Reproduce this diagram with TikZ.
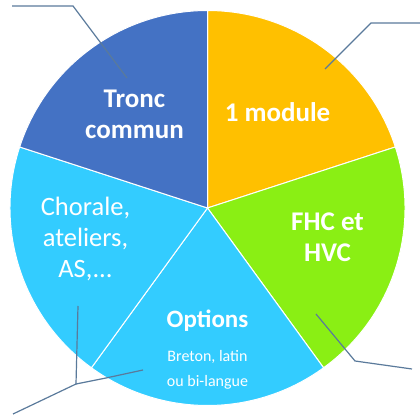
\documentclass[tikz,border=0pt]{standalone}
\usepackage{fontspec}
\setmainfont{Carlito}
\definecolor{troncblue}{RGB}{68,114,196}
\definecolor{moduleorange}{RGB}{255,192,0}
\definecolor{fhcgreen}{RGB}{138,239,20}
\definecolor{optblue}{RGB}{51,204,255}
\definecolor{leadgray}{RGB}{90,122,155}
\begin{document}
\begin{tikzpicture}[
    x=1pt, y=1pt,
    slice/.style={draw=white, line width=1pt},
    lbl/.style={text=white, align=center, inner sep=0pt},
    big/.style={font=\fontsize{27}{31}\selectfont\bfseries},
    bigthin/.style={font=\fontsize{26.5}{31}\selectfont},
    small/.style={font=\fontsize{16}{25}\selectfont},
    leader/.style={draw=leadgray, line width=1.2pt}
  ]
    \useasboundingbox (0,0) rectangle (420,417);
    \coordinate (c) at (207.5,209);
    \draw[slice, fill=moduleorange] (c) -- ++(90:197.5pt) arc[start angle=90, end angle=18, radius=197.5pt] -- cycle;
    \draw[slice, fill=fhcgreen] (c) -- ++(18:197.5pt) arc[start angle=18, end angle=-54, radius=197.5pt] -- cycle;
    \draw[slice, fill=optblue] (c) -- ++(-54:197.5pt) arc[start angle=-54, end angle=-126, radius=197.5pt] -- cycle;
    \draw[slice, fill=optblue] (c) -- ++(-126:197.5pt) arc[start angle=-126, end angle=-198, radius=197.5pt] -- cycle;
    \draw[slice, fill=troncblue] (c) -- ++(162:197.5pt) arc[start angle=162, end angle=90, radius=197.5pt] -- cycle;

    \node[lbl, big] (tronc) at (134.5,303) {Tronc\\ commun};
    \node[lbl, big] (module) at (277.5,304.5) {1 module};
    \node[lbl, big] (fhc) at (327.5,179.5) {FHC et\\ HVC};
    \node[lbl, bigthin] (chorale) at (85.5,178) {Chorale,\\ ateliers,\\ AS,...};
    \node[lbl, font=\fontsize{25}{30}\selectfont\bfseries] (options) at (207.5,96.5) {Options};
    \node[lbl, small] (optdetail) at (207.5,47) {Breton, latin\\ ou bi-langue};

    \coordinate (tronc-end) at (12,411);
    \coordinate (tronc-knee) at (73,411);
    \coordinate (tronc-pt) at (127,339);
    \coordinate (module-end) at (420,394);
    \coordinate (module-knee) at (371,394);
    \coordinate (module-pt) at (325,348);
    \coordinate (fhc-pt) at (316,103);
    \coordinate (fhc-knee) at (355,56);
    \coordinate (fhc-end) at (412,48);
    \coordinate (chorale-pt) at (78,111);
    \coordinate (low-knee) at (76,33);
    \coordinate (low-end) at (13,3);
    \coordinate (options-pt) at (143,47);
    \coordinate (options-bend) at (106,39);
    \draw[leader] (tronc-end) -- (tronc-knee) -- (tronc-pt);
    \draw[leader] (module-end) -- (module-knee) -- (module-pt);
    \draw[leader] (fhc-pt) -- (fhc-knee) -- (fhc-end);
    \draw[leader] (chorale-pt) -- (low-knee) -- (low-end);
    \draw[leader] (options-pt) -- (options-bend) -- (low-knee);
\end{tikzpicture}
\end{document}
